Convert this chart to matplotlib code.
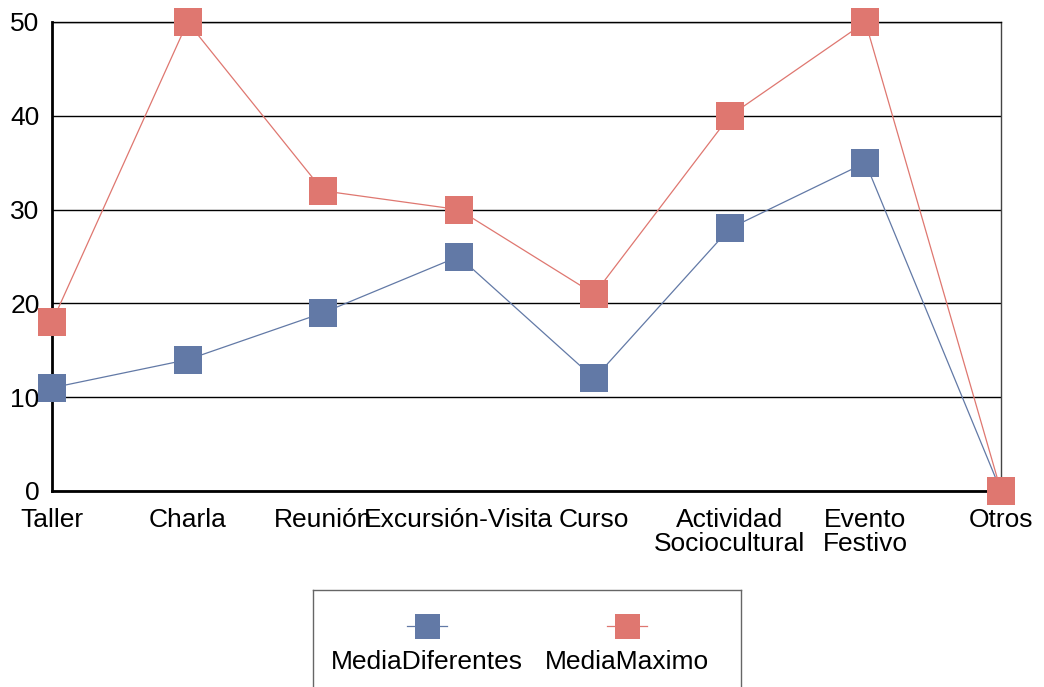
import matplotlib
matplotlib.use("Agg")
import matplotlib.pyplot as plt
from matplotlib.lines import Line2D

categories = ["Taller", "Charla", "Reunión", "Excursión-Visita", "Curso",
              "Actividad\nSociocultural", "Evento\nFestivo", "Otros"]
media_diferentes = [11, 14, 19, 25, 12, 28, 35, 0]
media_maximo = [18, 50, 32, 30, 21, 40, 50, 0]
y_ticks = [0, 10, 20, 30, 40, 50]

blue = "#6279A6"
red = "#DF7770"

plt.rcParams["font.family"] = ["Liberation Sans", "DejaVu Sans"]

fig = plt.figure(figsize=(10.44, 6.87), dpi=100)
ax = fig.add_axes([52 / 1044, 1 - 491 / 687, (1001 - 52) / 1044, (491 - 22) / 687])

x = list(range(len(categories)))
ax.plot(x, media_diferentes, color=blue, lw=0.9, marker="s", ms=20,
        markeredgewidth=0, clip_on=False, zorder=3)
ax.plot(x, media_maximo, color=red, lw=0.9, marker="s", ms=20,
        markeredgewidth=0, clip_on=False, zorder=4)

ax.set_xlim(0, len(categories) - 1)
ax.set_ylim(0, 50)
ax.set_yticks(y_ticks)
ax.set_xticks(x)
ax.set_xticklabels(categories, fontsize=19, linespacing=1.0)
ax.tick_params(axis="y", labelsize=19, length=0, pad=9)
ax.tick_params(axis="x", length=0, pad=12)
ax.yaxis.grid(True, color="black", lw=1)
ax.set_axisbelow(True)

ax.spines["left"].set_linewidth(2)
ax.spines["bottom"].set_linewidth(2)
ax.spines["top"].set_linewidth(1)
ax.spines["right"].set_color("#444444")
ax.spines["right"].set_linewidth(1)

# legend box with markers above labels
lax = fig.add_axes([313 / 1044, -0.05, (741 - 313) / 1044, (687 - 590) / 687 + 0.05])
lax.set_xlim(313, 741)
lax.set_ylim(687 + 0.05 * 687, 590)
lax.set_xticks([])
lax.set_yticks([])
for s in lax.spines.values():
    s.set_color("#666666")
    s.set_linewidth(1)

for cx, color, label in [(427, blue, "MediaDiferentes"), (627, red, "MediaMaximo")]:
    lax.add_line(Line2D([cx - 20, cx + 20], [626, 626], color=color, lw=0.9))
    lax.plot([cx], [626], marker="s", ms=18, color=color, markeredgewidth=0)
    lax.text(cx, 662, label, ha="center", va="center", fontsize=19)

fig.savefig("out.png", dpi=100)
